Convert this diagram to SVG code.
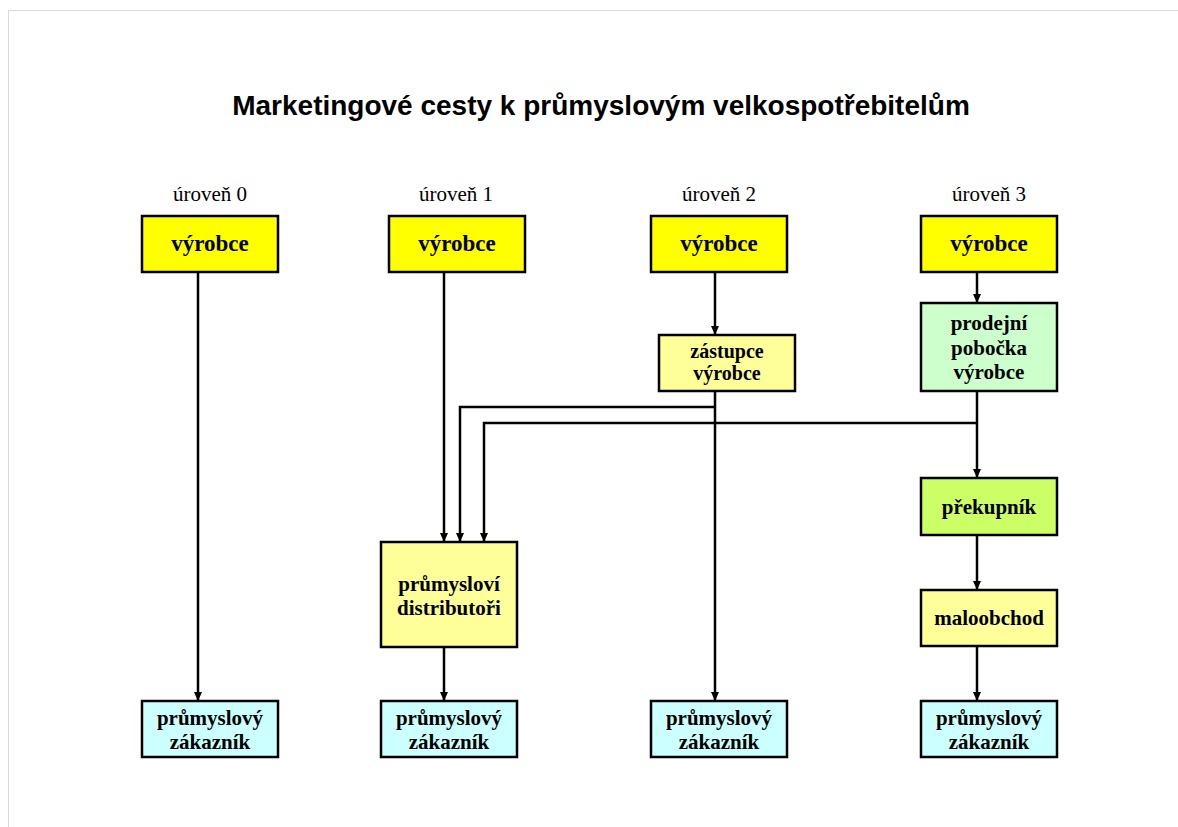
<svg xmlns="http://www.w3.org/2000/svg" width="1178" height="827" viewBox="0 0 1178 827">
  <style>
    .box { stroke: #000; stroke-width: 2.5; }
    .y1 { fill: #FFFF00; }
    .y2 { fill: #FFFF99; }
    .g1 { fill: #CCFFCC; }
    .g2 { fill: #CCFF66; }
    .c1 { fill: #CCFFFF; }
    .t { font-family: "Liberation Serif", "Times New Roman", serif; font-weight: bold; font-size: 21px; fill: #000; text-anchor: middle; }
    .big { font-size: 23px; }
    .small { font-size: 20px; }
    .lvl { font-family: "Liberation Serif", "Times New Roman", serif; font-size: 21px; fill: #000; text-anchor: middle; }
    .title { font-family: "Liberation Sans", Arial, sans-serif; font-weight: bold; font-size: 28px; fill: #000; text-anchor: middle; }
    .conn { fill: none; stroke: #000; stroke-width: 2.5; }
  </style>
  <defs>
    <marker id="arrow" markerUnits="userSpaceOnUse" markerWidth="10" markerHeight="10" refX="9" refY="5" orient="auto">
      <path d="M0,1 L9,5 L0,9 z" fill="#000"/>
    </marker>
  </defs>

  <rect width="1178" height="827" fill="#fff"/>
  <path d="M8.5,827 V10.5 H1178" fill="none" stroke="#d9d9d9" stroke-width="1"/>

  <text class="title" x="601" y="115">Marketingové cesty k průmyslovým velkospotřebitelům</text>

  <g id="levels">
    <text class="lvl" x="210" y="201">úroveň 0</text>
    <text class="lvl" x="456" y="201">úroveň 1</text>
    <text class="lvl" x="719" y="201">úroveň 2</text>
    <text class="lvl" x="989" y="201">úroveň 3</text>
  </g>

  <g id="connectors">
    <path class="conn" marker-end="url(#arrow)" d="M198,272 V701"/>
    <path class="conn" marker-end="url(#arrow)" d="M444,272 V542"/>
    <path class="conn" marker-end="url(#arrow)" d="M444,647 V701"/>
    <path class="conn" marker-end="url(#arrow)" d="M715,272 V335"/>
    <path class="conn" marker-end="url(#arrow)" d="M715,391 V701"/>
    <path class="conn" marker-end="url(#arrow)" d="M715,407 H460 V542"/>
    <path class="conn" marker-end="url(#arrow)" d="M977,272 V303"/>
    <path class="conn" marker-end="url(#arrow)" d="M977,391 V478"/>
    <path class="conn" marker-end="url(#arrow)" d="M977,423 H484 V542"/>
    <path class="conn" marker-end="url(#arrow)" d="M977,535 V590"/>
    <path class="conn" marker-end="url(#arrow)" d="M977,646 V701"/>
  </g>

  <g id="vyrobce0">
    <rect class="box y1" x="142" y="216" width="136" height="56"/>
    <text class="t big" x="210" y="251">výrobce</text>
  </g>
  <g id="vyrobce1">
    <rect class="box y1" x="389" y="216" width="136" height="56"/>
    <text class="t big" x="457" y="251">výrobce</text>
  </g>
  <g id="vyrobce2">
    <rect class="box y1" x="651" y="216" width="136" height="56"/>
    <text class="t big" x="719" y="251">výrobce</text>
  </g>
  <g id="vyrobce3">
    <rect class="box y1" x="921" y="216" width="136" height="56"/>
    <text class="t big" x="989" y="251">výrobce</text>
  </g>

  <g id="zastupce">
    <rect class="box y2" x="659" y="335" width="136" height="56"/>
    <text class="t small" x="727" y="358">zástupce</text>
    <text class="t small" x="727" y="380">výrobce</text>
  </g>

  <g id="pobocka">
    <rect class="box g1" x="921" y="303" width="136" height="88"/>
    <text class="t" x="989" y="330">prodejní</text>
    <text class="t" x="989" y="355">pobočka</text>
    <text class="t" x="989" y="379">výrobce</text>
  </g>

  <g id="prekupnik">
    <rect class="box g2" x="921" y="478" width="136" height="57"/>
    <text class="t" x="989" y="514">překupník</text>
  </g>

  <g id="maloobchod">
    <rect class="box y2" x="921" y="590" width="136" height="56"/>
    <text class="t" x="989" y="625">maloobchod</text>
  </g>

  <g id="distributori">
    <rect class="box y2" x="381" y="542" width="136" height="105"/>
    <text class="t" x="449" y="591">průmysloví</text>
    <text class="t" x="449" y="615">distributoři</text>
  </g>

  <g id="zakaznik0">
    <rect class="box c1" x="142" y="701" width="136" height="56"/>
    <text class="t" x="210" y="725">průmyslový</text>
    <text class="t" x="210" y="749">zákazník</text>
  </g>
  <g id="zakaznik1">
    <rect class="box c1" x="381" y="701" width="136" height="56"/>
    <text class="t" x="449" y="725">průmyslový</text>
    <text class="t" x="449" y="749">zákazník</text>
  </g>
  <g id="zakaznik2">
    <rect class="box c1" x="651" y="701" width="136" height="56"/>
    <text class="t" x="719" y="725">průmyslový</text>
    <text class="t" x="719" y="749">zákazník</text>
  </g>
  <g id="zakaznik3">
    <rect class="box c1" x="921" y="701" width="136" height="56"/>
    <text class="t" x="989" y="725">průmyslový</text>
    <text class="t" x="989" y="749">zákazník</text>
  </g>
</svg>
